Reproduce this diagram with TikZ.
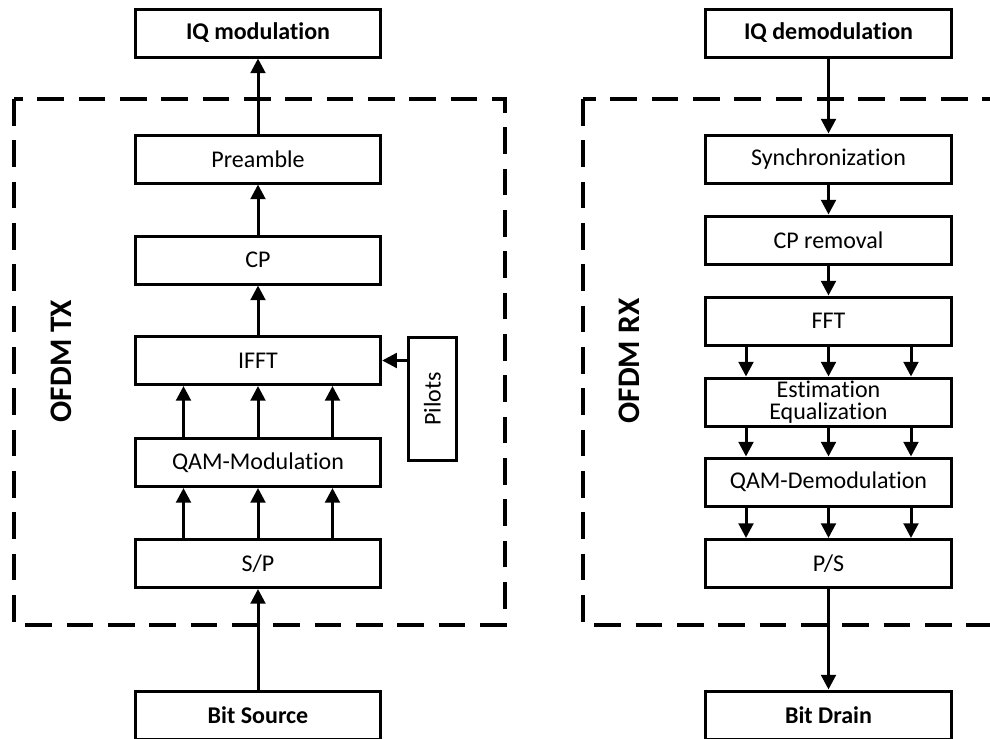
\documentclass[tikz,border=0pt]{standalone}
\usepackage{fontspec}
\setmainfont[Ligatures=NoCommon]{Carlito}
\usetikzlibrary{positioning, calc, arrows.meta}

\tikzset{
  block/.style={draw, line width=2.25pt, minimum width=184pt, minimum height=36pt,
                inner sep=0pt, align=center, font=\fontsize{18}{16.5}\selectfont},
  endblock/.style={block, font=\fontsize{18}{16.5}\selectfont\bfseries},
  flow/.style={line width=2.25pt, -{Triangle[length=11pt,width=11pt]}},
  group/.style={line width=3pt, dash pattern=on 20pt off 11pt},
  grouplabel/.style={rotate=90, font=\fontsize{23.5}{26}\selectfont\bfseries}
}

\begin{document}
\begin{tikzpicture}[x=0.75pt, y=-0.75pt]

      \clip (0,0) rectangle (990,739);

      % 1. Cajas punteadas TX / RX
      \draw[group] (14,99) rectangle (505,625);
      \draw[group] (583,99) rectangle (1076,625);
      \node[grouplabel] (txlabel) at (61,361) {OFDM TX};
      \node[grouplabel] (rxlabel) at (629,361) {OFDM RX};

      % 2. Transmisor
      \node[endblock] (iqmod) at (258,33) {IQ modulation};
      \node[block] (preamble) at (258,159) {Preamble};
      \node[block] (cp) at (258,260) {CP};
      \node[block] (ifft) at (258,360.5) {IFFT};
      \node[block] (qammod) at (258,462.5) {QAM-Modulation};
      \node[block] (sp) at (258,563.5) {S/P};
      \node[endblock] (bitsrc) at (258,715) {Bit Source};
      \node[block, minimum width=36pt, minimum height=92pt] (pilots) at (432.5,399) {\rotatebox{90}{Pilots}};

      \draw[flow] (bitsrc) -- (sp);
      \foreach \dx in {-74.5,0,74.5} {
        \draw[flow] ($(sp.north)+(\dx,0)$) -- ($(qammod.south)+(\dx,0)$);
        \draw[flow] ($(qammod.north)+(\dx,0)$) -- ($(ifft.south)+(\dx,0)$);
      }
      \draw[flow] (ifft.east -| pilots.west) -- (ifft.east);
      \draw[flow] (ifft) -- (cp);
      \draw[flow] (cp) -- (preamble);
      \draw[flow] (preamble) -- (iqmod);

      % 3. Receptor
      \node[endblock] (iqdemod) at (828.5,33) {IQ demodulation};
      \node[block] (sync) at (828.5,159) {Synchronization};
      \node[block] (cprem) at (828.5,240) {CP removal};
      \node[block] (fft) at (828.5,321) {FFT};
      \node[block] (esteq) at (828.5,402) {Estimation\\Equalization};
      \node[block] (qamdemod) at (828.5,482) {QAM-Demodulation};
      \node[block] (ps) at (828.5,563.5) {P/S};
      \node[endblock] (bitdrain) at (828.5,715) {Bit Drain};

      \draw[flow] (iqdemod) -- (sync);
      \draw[flow] (sync) -- (cprem);
      \draw[flow] (cprem) -- (fft);
      \foreach \dx in {-82.5,0,82.5} {
        \draw[flow] ($(fft.south)+(\dx,0)$) -- ($(esteq.north)+(\dx,0)$);
        \draw[flow] ($(esteq.south)+(\dx,0)$) -- ($(qamdemod.north)+(\dx,0)$);
        \draw[flow] ($(qamdemod.south)+(\dx,0)$) -- ($(ps.north)+(\dx,0)$);
      }
      \draw[flow] (ps) -- (bitdrain);

    \end{tikzpicture}
\end{document}
